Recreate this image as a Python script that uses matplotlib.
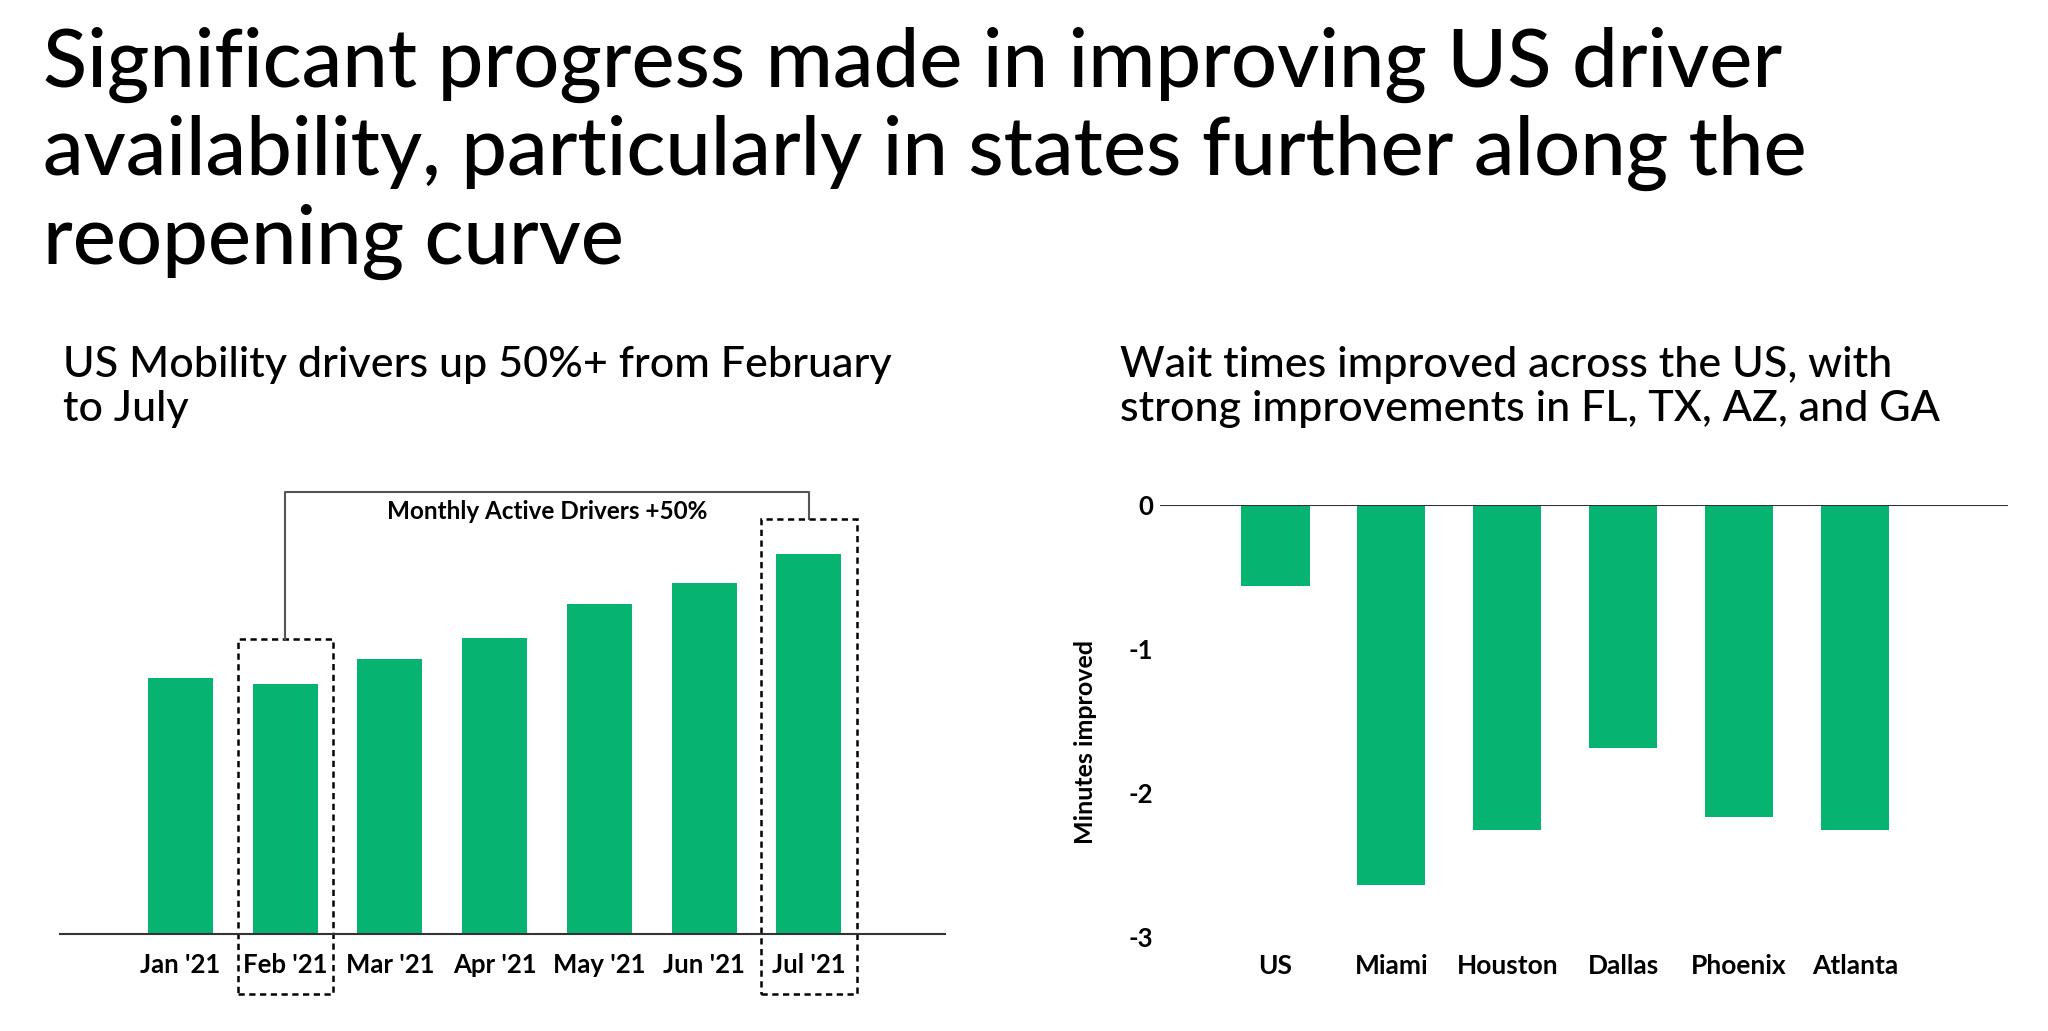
import matplotlib
matplotlib.use('Agg')
import matplotlib.pyplot as plt
from matplotlib.patches import Rectangle
from matplotlib.lines import Line2D

plt.rcParams['font.family'] = ['Lato', 'DejaVu Sans']

GREEN = '#07b370'

# left chart: monthly active drivers, indexed to Feb '21 = 100
months = ["Jan '21", "Feb '21", "Mar '21", "Apr '21", "May '21", "Jun '21", "Jul '21"]
drivers_idx = [102.6, 100, 110, 118.4, 132, 140.4, 152]

# right chart: wait time change in minutes
cities = ['US', 'Miami', 'Houston', 'Dallas', 'Phoenix', 'Atlanta']
wait_change = [-0.56, -2.64, -2.26, -1.69, -2.17, -2.26]

W, H = 2048, 1031
fig = plt.figure(figsize=(W / 100, H / 100), dpi=100)

def px_axes(x0, x1, ytop, ybot):
    return fig.add_axes([x0 / W, 1 - ybot / H, (x1 - x0) / W, (ybot - ytop) / H])

fig.text(43 / W, 1 - 27 / H,
         'Significant progress made in improving US driver\n'
         'availability, particularly in states further along the\n'
         'reopening curve',
         fontsize=58.5, fontweight=500, va='top', ha='left', linespacing=1.2)

fig.text(63 / W, 1 - 346 / H, 'US Mobility drivers up 50%+ from February\nto July',
         fontsize=31, fontweight=500, va='top', ha='left', linespacing=1.2)
fig.text(1120 / W, 1 - 346 / H,
         'Wait times improved across the US, with\nstrong improvements in FL, TX, AZ, and GA',
         fontsize=31, fontweight=500, va='top', ha='left', linespacing=1.2)

# ---- left bar chart
ax = px_axes(60, 945, 484, 934)
x = list(range(len(months)))
ax.bar(x, drivers_idx, width=0.62, color=GREEN)
ax.set_xlim(-1.15, 7.3)
ax.set_ylim(0, 180)
for s in ['top', 'right', 'left']:
    ax.spines[s].set_visible(False)
ax.spines['bottom'].set_color('#333333')
ax.spines['bottom'].set_linewidth(1.5)
ax.set_yticks([])
ax.set_xticks(x)
ax.set_xticklabels(months, fontsize=18.5, fontweight='bold')
ax.tick_params(axis='x', length=0, pad=14)

box_w = 0.91
for i, top in [(1, 118), (6, 166)]:
    ax.add_patch(Rectangle((i - box_w / 2, -24), box_w, top + 24, fill=False,
                           edgecolor='black', lw=1.8, linestyle=(0, (2.5, 1.8)),
                           clip_on=False))
ax.add_line(Line2D([1, 1, 6, 6], [118, 177, 177, 166], color='#555555', lw=1.5,
                   clip_on=False))
ax.text(3.5, 169, 'Monthly Active Drivers +50%', ha='center', va='center',
        fontsize=17.5, fontweight='bold')

# ---- right bar chart
ax2 = px_axes(1160, 2008, 505, 937)
xc = list(range(len(cities)))
ax2.bar(xc, wait_change, width=0.59, color=GREEN)
ax2.set_xlim(-0.995, 6.32)
ax2.set_ylim(-3, 0)
for s in ['top', 'right', 'left', 'bottom']:
    ax2.spines[s].set_visible(False)
ax2.axhline(0, color='#333333', lw=1.5)
ax2.set_yticks([0, -1, -2, -3])
ax2.set_yticklabels(['0', '-1', '-2', '-3'], fontsize=18.5, fontweight='bold')
ax2.tick_params(axis='y', length=0, pad=5)
ax2.set_xticks(xc)
ax2.set_xticklabels(cities, fontsize=19, fontweight='bold')
ax2.tick_params(axis='x', length=0, pad=12)
ax2.set_ylabel('Minutes improved', fontsize=18, fontweight='bold')
ax2.yaxis.set_label_coords((1097 - 1160) / 848, (937 - 742) / 432)

fig.savefig('out.png', dpi=100, facecolor='white')
